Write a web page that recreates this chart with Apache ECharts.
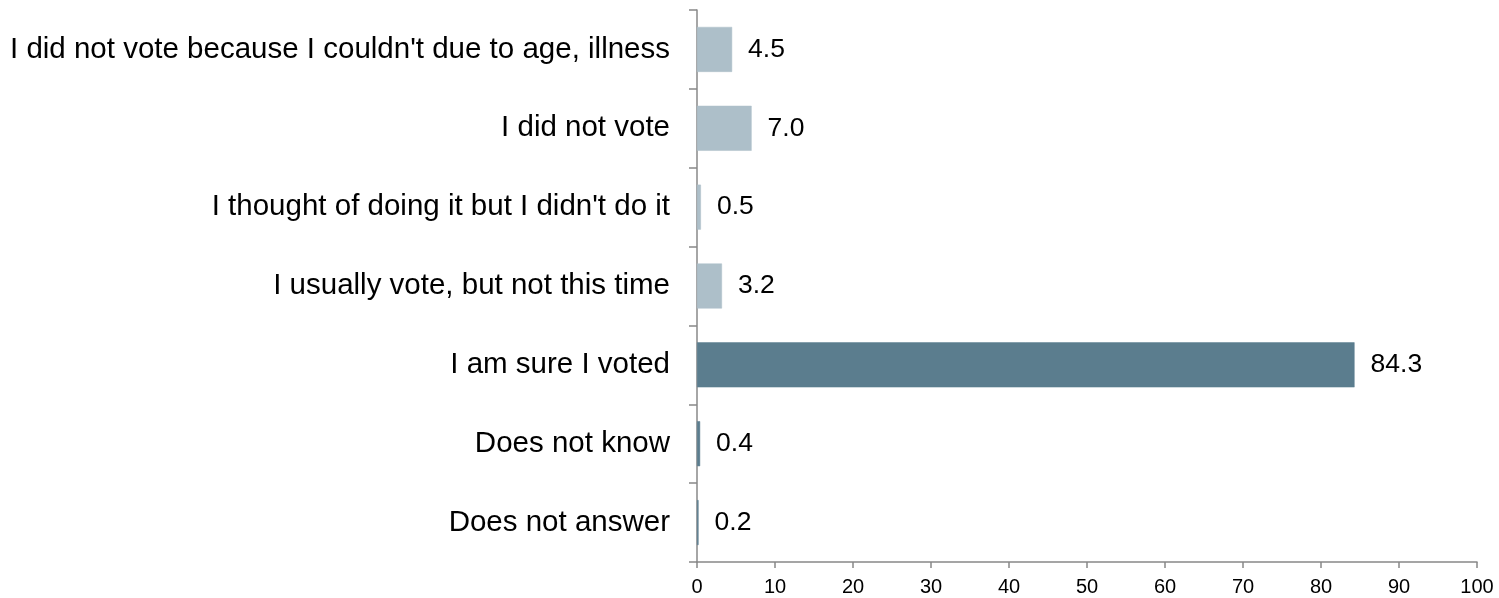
<!DOCTYPE html>
<html><head><meta charset="utf-8">
<script src="https://cdn.jsdelivr.net/npm/echarts@6/dist/echarts.min.js"></script>
<style>html,body{margin:0;padding:0;background:#fff}#c{width:1499px;height:598px}</style>
</head><body><div id="c"></div>
<script>
const categories = ["I did not vote because I couldn't due to age, illness","I did not vote","I thought of doing it but I didn't do it","I usually vote, but not this time","I am sure I voted","Does not know","Does not answer"];
const values = [4.5, 7.0, 0.5, 3.2, 84.3, 0.4, 0.2];
const shade = ["light","light","light","light","dark","dark","dark"];
const xTicks = [0,10,20,30,40,50,60,70,80,90,100];
const colors = {light:'#adbfc9', dark:'#5b7d8e'};
const chart = echarts.init(document.getElementById('c'));
chart.setOption({
  animation:false,
  grid:{left:697,right:22,top:10,bottom:36,containLabel:false},
  xAxis:{type:'value',min:xTicks[0],max:xTicks[xTicks.length-1],interval:10,
    axisLine:{show:true,lineStyle:{color:'#888',width:1.5}},
    axisTick:{show:true,length:6,lineStyle:{color:'#888',width:1.5}},
    splitLine:{show:false},
    axisLabel:{color:'#000',fontSize:20,fontFamily:'Liberation Sans, Arial',margin:15}},
  yAxis:{type:'category',data:categories,inverse:true,
    axisLine:{show:true,lineStyle:{color:'#888',width:1.5}},
    axisTick:{show:true,length:8,inside:false,lineStyle:{color:'#888',width:1.5}},
    axisLabel:{color:'#000',fontSize:29.5,fontFamily:'Liberation Sans, Arial',margin:27}},
  series:[{type:'bar',barWidth:45,
    data:values.map((v,i)=>({value:v,itemStyle:{color:colors[shade[i]],borderColor:shade[i]==='dark'?'#5b7d8e':colors[shade[i]],borderWidth:0.5}})),
    label:{show:true,position:'right',distance:16,color:'#000',fontSize:26.5,fontFamily:'Liberation Sans, Arial',
      formatter:p=>p.value.toFixed(1)}}]
});
</script></body></html>
